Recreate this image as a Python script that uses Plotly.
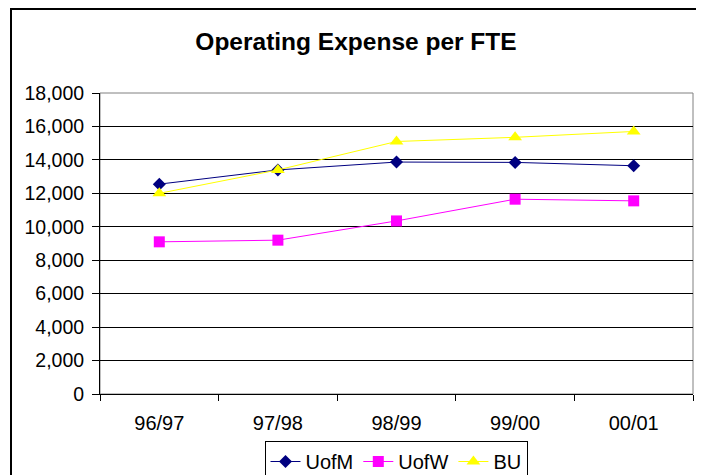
import plotly.graph_objects as go

categories = ["96/97", "97/98", "98/99", "99/00", "00/01"]
uofm = [12550, 13400, 13870, 13850, 13650]
uofw = [9100, 9200, 10350, 11650, 11550]
bu = [12000, 13400, 15100, 15350, 15700]
y_ticks = [0, 2000, 4000, 6000, 8000, 10000, 12000, 14000, 16000, 18000]

# page body has an 8px margin; figure drawn at (8, 8) inside the 704x475 window
OFF = 8
W, H = 704 - OFF, 475 - OFF
L, T = 100 - OFF, 93 - OFF
R = W - (693 - OFF)
B = H - (394 - OFF)
pw, ph = W - L - R, H - T - B

font = "Liberation Sans, Arial, sans-serif"

fig = go.Figure()
fig.add_trace(go.Scatter(x=categories, y=uofm, name="UofM", mode="lines+markers",
                         line=dict(color="#000080", width=1),
                         marker=dict(symbol="diamond", size=10, color="#000080")))
fig.add_trace(go.Scatter(x=categories, y=uofw, name="UofW", mode="lines+markers",
                         line=dict(color="#FF00FF", width=1),
                         marker=dict(symbol="square", size=11, color="#FF00FF")))
fig.add_trace(go.Scatter(x=categories, y=bu, name="BU", mode="lines+markers",
                         line=dict(color="#FFFF00", width=1),
                         marker=dict(symbol="triangle-up", size=12, color="#FFFF00")))

def px_x(p):
    return (p - OFF - L) / pw

def px_y(p):
    return (H - B - (p - OFF)) / ph

fig.update_layout(
    width=W, height=H,
    margin=dict(l=L, r=R, t=T, b=B, autoexpand=False),
    paper_bgcolor="white", plot_bgcolor="white",
    font=dict(family=font, size=20, color="black"),
    title=dict(text="<b>Operating Expense per FTE</b>", font=dict(size=24.5, family=font, color="black"),
               x=(356 - OFF) / W, xanchor="center", xref="container",
               y=1 - (41 - OFF) / H, yanchor="middle", yref="container"),
    showlegend=True,
    legend=dict(orientation="h", x=(396 - OFF) / W, xanchor="center", xref="container",
                y=1 - (441 - OFF) / H, yanchor="top", yref="container",
                bordercolor="black", borderwidth=1, bgcolor="white",
                font=dict(size=20, family=font), itemwidth=30, tracegroupgap=0),
    xaxis=dict(type="category", range=[-0.5, 4.5], showgrid=False, showline=True, linecolor="black",
               linewidth=1, ticks="outside", tickson="boundaries", ticklen=6, tickcolor="black",
               ticklabelstandoff=11, zeroline=False),
    yaxis=dict(range=[0, 18000], tickvals=y_ticks, tickformat=",", showgrid=True, gridcolor="black",
               gridwidth=1, showline=True, linecolor="black", linewidth=1, ticks="outside", ticklen=7,
               tickcolor="black", ticklabelstandoff=4, zeroline=False, tickfont=dict(size=19.5)),
    shapes=[
        dict(type="rect", xref="paper", yref="paper", x0=0, x1=1, y0=0, y1=1,
             line=dict(color="#808080", width=1), layer="below"),
        dict(type="rect", xref="paper", yref="paper", x0=px_x(11), x1=px_x(701), y0=px_y(520), y1=px_y(9),
             line=dict(color="black", width=2)),
    ],
)

fig.write_html("out.html")
